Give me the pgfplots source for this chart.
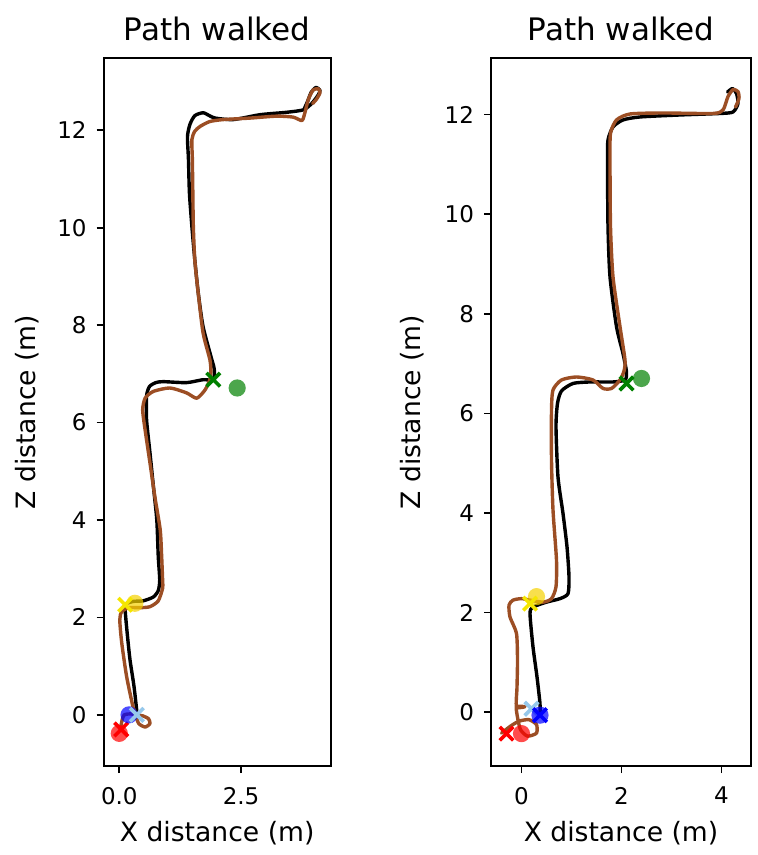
\documentclass[border=0pt]{standalone}
\usepackage{pgfplots}
\pgfplotsset{compat=1.18}
\usepackage{fontspec}
\setmainfont{DejaVu Sans}
\definecolor{brn}{RGB}{156,78,36}
\definecolor{mgreen}{RGB}{0,128,0}
\definecolor{lblue}{RGB}{150,200,235}
\definecolor{myel}{RGB}{245,230,0}
\definecolor{cyel}{RGB}{245,210,0}
\pgfplotsset{
  pw/.style={
    scale only axis, height=353.9pt,
    axis line style={line width=0.8pt},
    tick align=outside, major tick length=3.5pt,
    every tick/.style={black, line width=0.8pt},
    xtick pos=bottom, ytick pos=left,
    /pgf/number format/assume math mode=true,
    tick label style={font=\fontsize{11.5}{13}\selectfont},
    xticklabel style={yshift=-3.5pt},
    yticklabel style={xshift=-1.5pt},
    label style={font=\fontsize{13.3}{15}\selectfont},
    title style={font=\fontsize{15.5}{18}\selectfont, at={(0.5,1)}, anchor=base, yshift=3pt},
    xlabel style={at={(0.5,0)}, anchor=base, yshift=-37.5pt},
    ylabel style={at={(0,0.5)}, anchor=center},
    ytick={0,2,4,6,8,10,12},
    title={Path walked},
    xlabel={X distance (m)}, ylabel={Z distance (m)},
  },
  blk/.style={black, line width=1.7pt, smooth, tension=0.4, line join=round, line cap=round},
  brw/.style={brn, line width=1.7pt, smooth, tension=0.4, line join=round, line cap=round},
  circ/.style={only marks, color=#1, mark=*, mark size=4.3pt, mark options={draw opacity=0, fill=#1, fill opacity=0.7}},
  crs/.style={only marks, color=#1, mark=x, mark size=4.8pt, mark options={draw=#1, line width=1.8pt}},
}
\begin{document}
\begin{tikzpicture}
\path[use as bounding box] (-51.85pt,-44.5pt) rectangle (327.15pt,383pt);
\begin{axis}[pw, at={(0,0)}, anchor=south west, width=113.5pt,
  xmin=-0.32, xmax=4.34, ymin=-1.05, ymax=13.48,
  xtick={0,2.5}, xticklabels={0.0,2.5},
  ylabel style={yshift=38.5pt}]
\addplot[blk] coordinates {(0.36,0.00) (0.36,0.07) (0.30,0.60) (0.22,1.13) (0.16,1.70) (0.12,2.16) (0.14,2.28) (0.30,2.33) (0.49,2.34) (0.70,2.42) (0.80,2.55) (0.83,2.77) (0.80,3.25) (0.77,4.00) (0.70,4.69) (0.63,5.38) (0.56,6.06) (0.56,6.55) (0.62,6.74) (0.75,6.82) (0.90,6.84) (1.38,6.82) (1.72,6.88) (1.93,6.88) (1.95,7.10) (1.90,7.29) (1.72,7.97) (1.62,8.67) (1.55,9.34) (1.49,10.03) (1.44,10.71) (1.42,11.40) (1.40,11.87) (1.45,12.12) (1.55,12.30) (1.72,12.36) (1.85,12.30) (1.97,12.25) (2.34,12.22) (2.89,12.32) (3.44,12.37) (3.78,12.42) (3.95,12.55) (4.08,12.72) (4.12,12.82) (4.04,12.88) (3.94,12.78) (3.86,12.58) (3.80,12.45)};
\addplot[brw] coordinates {(0.02,-0.30) (0.06,-0.10) (0.10,0.00) (0.22,0.02) (0.36,0.00) (0.48,-0.02) (0.60,-0.08) (0.63,-0.18) (0.53,-0.25) (0.40,-0.18) (0.34,-0.02) (0.31,0.10) (0.28,0.17) (0.15,0.79) (0.05,1.48) (0.01,1.95) (0.05,2.12) (0.20,2.20) (0.43,2.20) (0.63,2.22) (0.80,2.34) (0.89,2.60) (0.89,2.75) (0.87,3.25) (0.84,3.80) (0.73,4.48) (0.63,5.17) (0.53,5.85) (0.48,6.26) (0.53,6.50) (0.70,6.64) (1.04,6.71) (1.38,6.61) (1.59,6.50) (1.76,6.67) (1.86,6.88) (1.88,7.05) (1.86,7.29) (1.72,7.84) (1.62,8.66) (1.55,9.34) (1.52,10.03) (1.51,10.71) (1.50,11.40) (1.49,11.81) (1.55,11.98) (1.66,12.08) (1.86,12.18) (2.14,12.22) (2.68,12.25) (3.23,12.29) (3.57,12.27) (3.75,12.20) (3.81,12.36) (3.88,12.63) (3.98,12.83) (4.09,12.85) (4.12,12.77) (4.05,12.64) (3.97,12.55)};
\addplot[circ=red] coordinates {(0.00,-0.38)};
\addplot[crs=red] coordinates {(0.04,-0.30)};
\addplot[circ=blue] coordinates {(0.20,0.00)};
\addplot[crs=lblue] coordinates {(0.36,0.00)};
\addplot[circ=cyel] coordinates {(0.32,2.29)};
\addplot[crs=myel] coordinates {(0.12,2.26)};
\addplot[circ=mgreen] coordinates {(2.42,6.71)};
\addplot[crs=mgreen] coordinates {(1.93,6.88)};
\end{axis}
\begin{axis}[pw, at={(193.65pt,0)}, anchor=south west, width=130pt,
  xmin=-0.61, xmax=4.59, ymin=-1.08, ymax=13.13,
  xtick={0,2,4},
  ylabel style={yshift=39.5pt}]
\addplot[blk] coordinates {(0.37,-0.06) (0.37,0.17) (0.31,0.71) (0.23,1.31) (0.17,1.98) (0.23,2.11) (0.50,2.21) (0.77,2.28) (0.93,2.38) (0.95,2.72) (0.91,3.32) (0.83,3.99) (0.73,4.72) (0.69,5.73) (0.72,6.20) (0.80,6.45) (1.03,6.60) (1.37,6.63) (1.83,6.63) (2.07,6.67) (2.10,6.83) (2.03,7.20) (1.90,7.74) (1.77,8.74) (1.73,9.75) (1.72,11.08) (1.73,11.49) (1.83,11.75) (2.03,11.89) (2.37,11.95) (3.17,11.99) (3.97,12.02) (4.23,12.05) (4.33,12.22) (4.30,12.42) (4.22,12.52) (4.12,12.45)};
\addplot[brw] coordinates {(-0.40,-0.42) (-0.22,-0.28) (-0.05,-0.18) (0.15,-0.15) (0.30,-0.25) (0.30,-0.42) (0.12,-0.48) (-0.02,-0.35) (-0.08,-0.10) (-0.10,0.11) (0.07,0.11) (-0.10,0.11) (-0.09,0.50) (-0.08,1.04) (-0.10,1.58) (-0.23,1.91) (-0.25,2.15) (-0.17,2.25) (0.00,2.28) (0.17,2.25) (0.43,2.21) (0.60,2.28) (0.69,2.52) (0.70,3.05) (0.63,4.06) (0.60,5.06) (0.60,6.06) (0.63,6.47) (0.80,6.67) (1.10,6.73) (1.43,6.67) (1.63,6.50) (1.80,6.50) (1.97,6.67) (2.05,6.85) (2.07,7.07) (1.97,7.74) (1.83,8.74) (1.78,9.75) (1.77,11.08) (1.78,11.62) (1.90,11.89) (2.17,12.01) (2.83,12.03) (3.83,12.02) (4.03,12.09) (4.13,12.36) (4.23,12.50) (4.33,12.46) (4.35,12.32) (4.28,12.15)};
\addplot[circ=red] coordinates {(0.00,-0.43)};
\addplot[crs=red] coordinates {(-0.30,-0.43)};
\addplot[crs=lblue] coordinates {(0.20,0.07)};
\addplot[circ=blue] coordinates {(0.37,-0.06)};
\addplot[crs=blue] coordinates {(0.37,-0.06)};
\addplot[circ=cyel] coordinates {(0.30,2.32)};
\addplot[crs=myel] coordinates {(0.17,2.18)};
\addplot[circ=mgreen] coordinates {(2.40,6.70)};
\addplot[crs=mgreen] coordinates {(2.10,6.60)};
\end{axis}
\end{tikzpicture}
\end{document}
